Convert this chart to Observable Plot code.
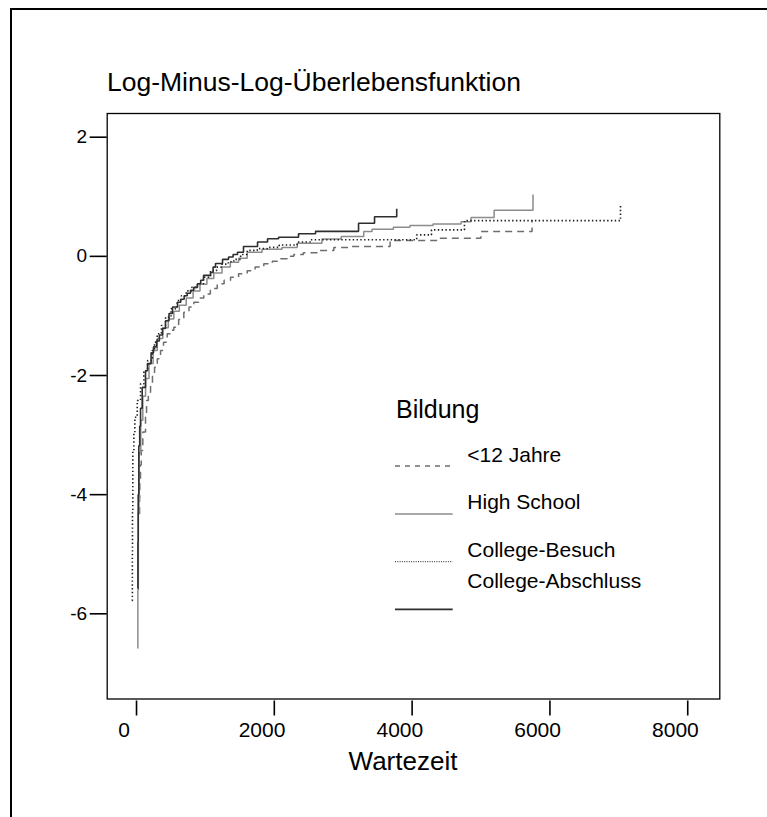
<!DOCTYPE html>
<html>
<head>
<meta charset="utf-8">
<script src="https://cdn.jsdelivr.net/npm/d3@7"></script>
<script src="https://cdn.jsdelivr.net/npm/@observablehq/plot@0.6"></script>
<style>
  html, body { margin: 0; padding: 0; background: #fff; overflow: hidden; }
  body { width: 767px; height: 817px; position: relative; font-family: "Liberation Sans", Arial, sans-serif; }
  #frame { position: absolute; left: 10px; top: 8px; width: 900px; height: 900px; border-left: 2.3px solid #000; border-top: 2.2px solid #000; box-sizing: border-box; }
  #chart { position: absolute; left: 0; top: 0; }
  #overlay { position: absolute; left: 0; top: 0; pointer-events: none; }
</style>
</head>
<body>
<div id="frame"></div>
<div id="chart"></div>
<svg id="overlay" width="767" height="817"></svg>
<script>
// ---- Data ----
const titleText = "Log-Minus-Log-Überlebensfunktion";
const xLabel = "Wartezeit";
const legendTitle = "Bildung";
const groups = ["<12 Jahre", "High School", "College-Besuch", "College-Abschluss"];
const xTicks = [0, 2000, 4000, 6000, 8000];
const yTicks = [-6, -4, -2, 0, 2];

// <12 Jahre
const lessT = [220, 223, 226, 236, 247, 270, 309, 324, 350, 382, 410, 440, 480, 527, 570, 624, 670, 720, 790, 865, 940, 1010, 1080, 1155, 1250, 1350, 1450, 1543, 1660, 1785, 1900, 2026, 2150, 2268, 2366, 2461, 2600, 2801, 3042, 3284, 3859, 4576, 5177, 5919];
const lessY = [-4.32, -4.05, -3.81, -3.5, -3.26, -2.95, -2.70, -2.42, -2.28, -2.14, -2.0, -1.86, -1.72, -1.58, -1.44, -1.30, -1.24, -1.19, -1.06, -0.94, -0.85, -0.77, -0.70, -0.63, -0.54, -0.46, -0.40, -0.35, -0.29, -0.24, -0.18, -0.125, -0.08, -0.04, 0.0, 0.03, 0.06, 0.10, 0.15, 0.167, 0.266, 0.305, 0.417, 0.61];

// High School
const hsT = [195, 198, 205, 215, 240, 270, 310, 360, 420, 480, 560, 640, 720, 800, 900, 1000, 1100, 1200, 1300, 1420, 1540, 1660, 1785, 2000, 2290, 2511, 2870, 3150, 3476, 3597, 3907, 4147, 4482, 4890, 5033, 5369, 5933];
const hsY = [-6.58, -5.6, -4.3, -3.3, -2.75, -2.35, -2.05, -1.80, -1.58, -1.38, -1.20, -1.05, -0.92, -0.82, -0.70, -0.58, -0.47, -0.37, -0.28, -0.18, -0.10, -0.03, 0.07, 0.12, 0.15, 0.22, 0.29, 0.333, 0.417, 0.456, 0.488, 0.516, 0.543, 0.58, 0.654, 0.776, 1.04];

// College-Besuch
const cbT = [116, 118, 120, 125, 140, 154, 189, 237, 285, 340, 406, 440, 479, 540, 600, 680, 769, 830, 900, 980, 1060, 1150, 1253, 1340, 1420, 1510, 1591, 1690, 1785, 1930, 2075, 2250, 2511, 2700, 4245, 4459, 4938, 7203];
const cbY = [-5.78, -5.0, -4.3, -3.26, -2.97, -2.70, -2.42, -2.14, -1.92, -1.75, -1.58, -1.44, -1.30, -1.16, -1.02, -0.88, -0.74, -0.66, -0.58, -0.52, -0.46, -0.35, -0.24, -0.18, -0.13, -0.09, -0.05, 0.03, 0.10, 0.13, 0.15, 0.19, 0.24, 0.278, 0.36, 0.444, 0.60, 0.887];

// College-Abschluss
const caT = [197, 199, 203, 212, 225, 237, 261, 309, 338, 390, 425, 470, 510, 556, 599, 650, 701, 774, 820, 870, 915, 962, 1010, 1064, 1110, 1151, 1253, 1290, 1325, 1427, 1514, 1580, 1644, 1731, 1935, 2080, 2240, 2530, 2777, 3401, 3633, 3955];
const caY = [-5.58, -4.8, -4.0, -3.18, -2.85, -2.55, -2.2, -1.92, -1.80, -1.62, -1.52, -1.42, -1.32, -1.21, -1.08, -0.96, -0.85, -0.77, -0.72, -0.66, -0.62, -0.57, -0.52, -0.46, -0.40, -0.32, -0.27, -0.18, -0.12, -0.05, -0.01, 0.03, 0.07, 0.165, 0.24, 0.295, 0.32, 0.38, 0.42, 0.555, 0.666, 0.80];

const seriesT = [lessT, hsT, cbT, caT];
const seriesY = [lessY, hsY, cbY, caY];

// ---- Styles ----
const FONT = "'Liberation Sans', Arial, Helvetica, sans-serif";
const lineStyles = [
  {stroke: "#6e6e6e", dash: "7,5", width: 1.5, legendDash: "5,5", legendWidth: 1.3},
  {stroke: "#8c8c8c", dash: null, width: 1.5, legendDash: null, legendWidth: 1.6},
  {stroke: "#1e1e1e", dash: "1.4,2.4", width: 1.6, legendDash: "1,1.3", legendWidth: 1.0},
  {stroke: "#2e2e2e", dash: null, width: 1.6, legendDash: null, legendWidth: 1.8}
];

const tables = groups.map((g, i) => seriesT[i].map((t, j) => ({group: g, t, y: seriesY[i][j]})));

const lineMarks = tables.map((tbl, i) => Plot.line(tbl, {
  x: "t", y: "y",
  curve: "step-after",
  stroke: lineStyles[i].stroke,
  strokeWidth: lineStyles[i].width,
  strokeDasharray: lineStyles[i].dash || undefined,
  strokeLinejoin: "miter",
  strokeLinecap: "butt"
}));

const chart = Plot.plot({
  width: 767,
  height: 817,
  marginLeft: 106.7,
  marginRight: 47.7,
  marginTop: 113,
  marginBottom: 118.5,
  style: {fontFamily: FONT, color: "#000", background: "transparent", overflow: "visible"},
  x: {domain: [-247, 8644], label: null},
  y: {domain: [-7.43, 2.398], label: null},
  marks: [
    Plot.axisY({ticks: yTicks, tickSize: 17, tickPadding: 3, fontSize: 19, strokeWidth: 1.6, tickFormat: d => String(d), label: null}),
    Plot.axisX({ticks: xTicks, tickSize: 15, text: null, dx: 12.3, dy: 2, strokeWidth: 1.6, label: null}),
    Plot.axisX({ticks: xTicks, tickSize: 0, tickPadding: 23.5, fontSize: 21, tickFormat: d => String(d), label: null}),
    ...lineMarks,
    Plot.frame({stroke: "#000", strokeWidth: 1.3})
  ]
});
document.getElementById("chart").appendChild(chart);

// ---- Title, axis label, legend (overlay) ----
const ov = d3.select("#overlay").style("font-family", FONT);
ov.append("text").attr("x", 107).attr("y", 91).attr("font-size", 26.5).attr("fill", "#000").text(titleText);
ov.append("text").attr("x", 403).attr("y", 769.5).attr("text-anchor", "middle").attr("font-size", 26).attr("fill", "#000").text(xLabel);

ov.append("text").attr("x", 396).attr("y", 418.3).attr("font-size", 25).attr("fill", "#000").text(legendTitle);
const labelBase = [461.7, 509.3, 556.7, 588.3];
const swatchY = [466, 514, 561.7, 609.3];
groups.forEach((g, i) => {
  ov.append("text").attr("x", 467.3).attr("y", labelBase[i]).attr("font-size", 21).attr("fill", "#000").text(g);
  const ln = ov.append("line").attr("x1", 395).attr("x2", 452.7).attr("y1", swatchY[i]).attr("y2", swatchY[i])
    .attr("stroke", lineStyles[i].stroke).attr("stroke-width", lineStyles[i].legendWidth);
  if (lineStyles[i].legendDash) ln.attr("stroke-dasharray", lineStyles[i].legendDash);
});
</script>
</body>
</html>
